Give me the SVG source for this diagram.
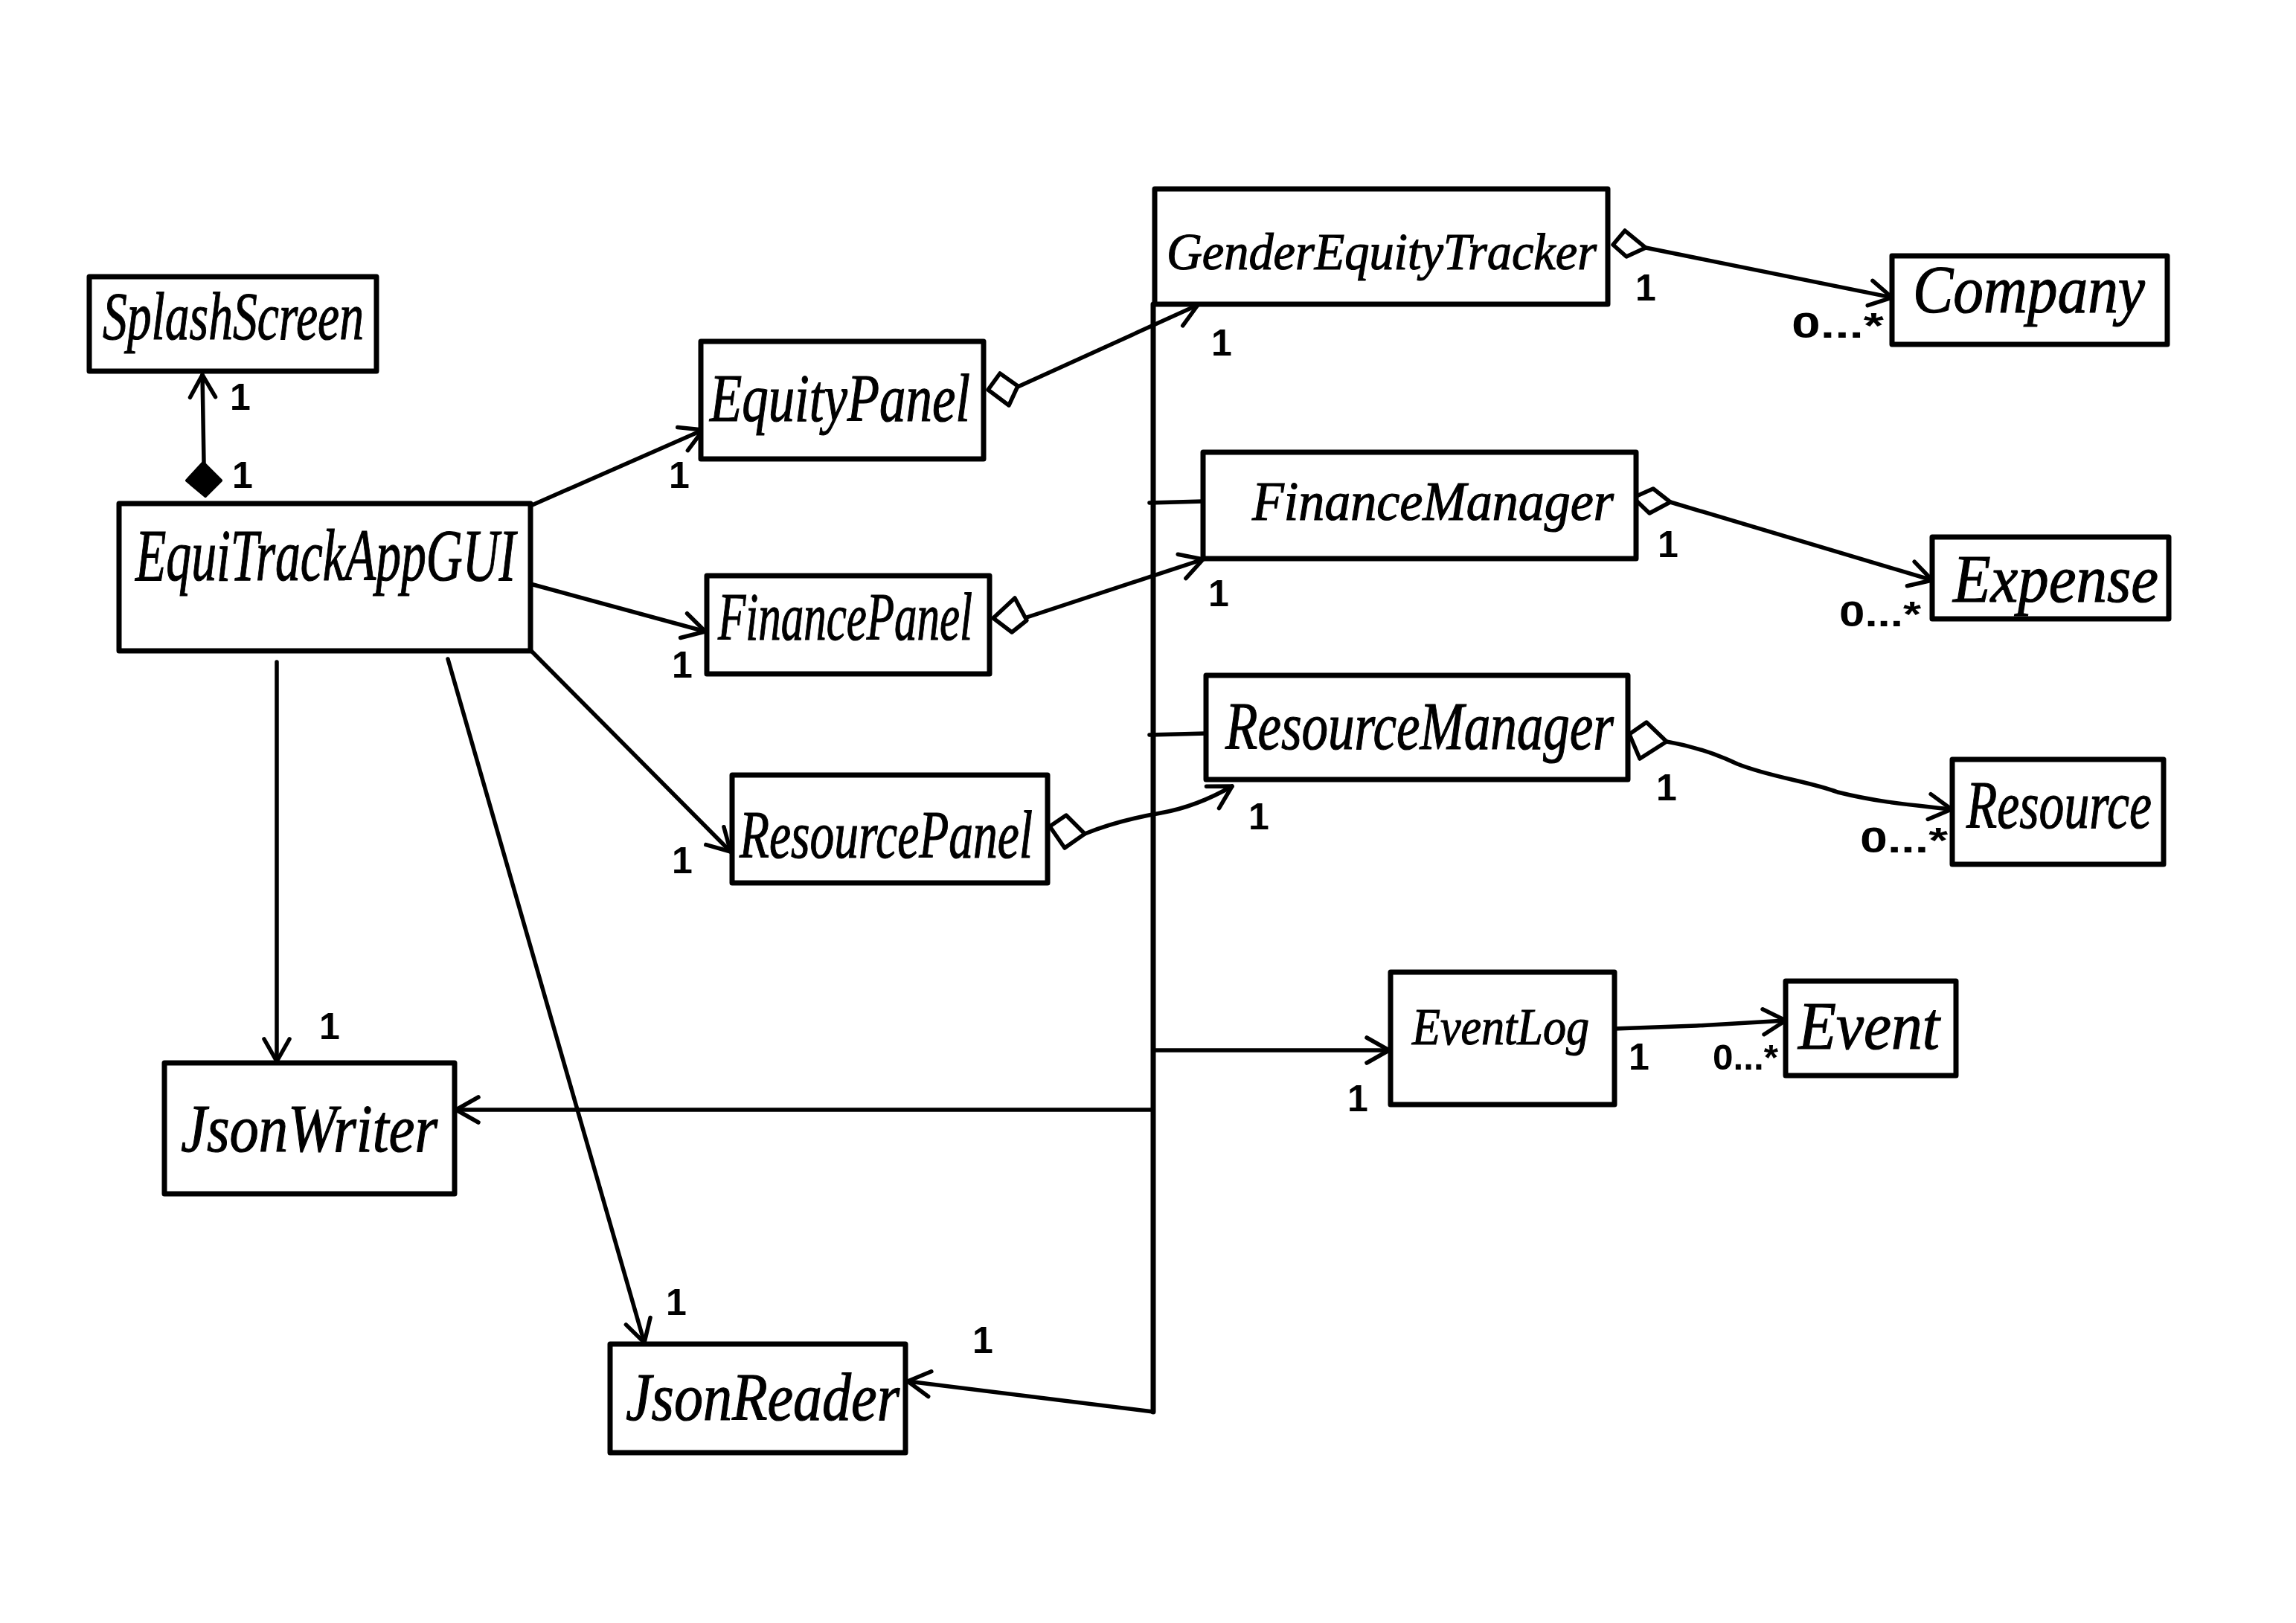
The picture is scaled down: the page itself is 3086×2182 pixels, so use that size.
<svg xmlns="http://www.w3.org/2000/svg" width="3086" height="2182" viewBox="0 0 3086 2182">
  <style>
    .box { fill: #ffffff; stroke: #000000; stroke-width: 7; stroke-linejoin: round; }
    .name { font-family: "Liberation Serif", "DejaVu Serif", serif; font-style: italic; font-size: 92px; fill: #000000; stroke: #000000; stroke-width: 1.2; }
    .edge { fill: none; stroke: #000000; stroke-width: 5.5; stroke-linecap: round; stroke-linejoin: round; }
    .bus { fill: none; stroke: #000000; stroke-width: 7; stroke-linecap: round; }
    .agg { fill: #ffffff; stroke: #000000; stroke-width: 5.5; stroke-linejoin: round; }
    .comp { fill: #000000; stroke: #000000; stroke-width: 4; stroke-linejoin: round; }
    .one { font-family: "Liberation Sans", "DejaVu Sans", sans-serif; font-weight: bold; font-size: 50px; fill: #000000; text-anchor: middle; }
    .many { font-family: "Liberation Sans", "DejaVu Sans", sans-serif; font-weight: bold; font-size: 48px; fill: #000000; text-anchor: middle; }
  </style>
  <defs>
    <marker id="open" markerUnits="userSpaceOnUse" markerWidth="60" markerHeight="60" refX="0" refY="0" viewBox="-40 -30 50 60" orient="auto">
      <path d="M -30 -17 L 0 0 L -30 17" fill="none" stroke="#000000" stroke-width="5.5" stroke-linecap="round" stroke-linejoin="round"/>
    </marker>
  </defs>

  <rect width="3086" height="2182" fill="#ffffff"/>

  <!-- connectors -->
  <g id="connectors">
    <!-- EquiTrackAppGUI composes SplashScreen -->
    <path class="edge" d="M 274 622 L 272 504" marker-end="url(#open)"/>
    <polygon class="comp" points="273,622 297,646 276,667 251,646"/>

    <!-- EquiTrackAppGUI to the panels and json classes -->
    <path class="edge" d="M 713 680 L 945 578" marker-end="url(#open)"/>
    <path class="edge" d="M 713 785 L 948 849" marker-end="url(#open)"/>
    <path class="edge" d="M 713 874 L 982 1145" marker-end="url(#open)"/>
    <path class="edge" d="M 372 890 L 372 1427" marker-end="url(#open)"/>
    <path class="edge" d="M 602 886 L 866 1805" marker-end="url(#open)"/>

    <!-- panels aggregate the managers -->
    <path class="edge" d="M 1368 520 L 1610 410" marker-end="url(#open)"/>
    <polygon class="agg" points="1328,524 1344,502 1368,519 1356,545"/>
    <path class="edge" d="M 1380 830 L 1617 752" marker-end="url(#open)"/>
    <polygon class="agg" points="1335,831 1364,804 1380,834 1360,850"/>
    <path class="edge" d="M 1458 1121 C 1490 1108 1520 1100 1560 1093 C 1600 1086 1630 1072 1656 1057" marker-end="url(#open)"/>
    <polygon class="agg" points="1411,1111 1433,1096 1458,1121 1431,1140"/>

    <!-- managers aggregate their items -->
    <path class="edge" d="M 2212 333 L 2543 400" marker-end="url(#open)"/>
    <polygon class="agg" points="2168,329 2184,310 2212,333 2186,345"/>
    <path class="edge" d="M 2245 675 L 2597 780" marker-end="url(#open)"/>
    <polygon class="agg" points="2195,669 2222,657 2245,675 2217,690"/>
    <path class="edge" d="M 2240 997 C 2280 1004 2310 1015 2335 1027 C 2380 1045 2430 1050 2470 1065 C 2530 1080 2580 1083 2623 1088" marker-end="url(#open)"/>
    <polygon class="agg" points="2190,987 2213,971 2240,997 2204,1020"/>
    <path class="edge" d="M 2170 1383 L 2280 1379 L 2400 1372" marker-end="url(#open)"/>

    <!-- bus line from GenderEquityTracker -->
    <path class="bus" d="M 1550 409 L 1550 1898"/>
    <path class="edge" d="M 1545 676 L 1617 674"/>
    <path class="edge" d="M 1545 988 L 1621 986"/>
    <path class="edge" d="M 1550 1412 L 1867 1412" marker-end="url(#open)"/>
    <path class="edge" d="M 1550 1492 L 613 1492" marker-end="url(#open)"/>
    <path class="edge" d="M 1550 1898 L 1220 1857" marker-end="url(#open)"/>

    <!-- multiplicities -->
    <text class="one" x="323" y="551">1</text>
    <text class="one" x="326" y="656">1</text>
    <text class="one" x="913" y="656">1</text>
    <text class="one" x="917" y="911">1</text>
    <text class="one" x="917" y="1174">1</text>
    <text class="one" x="443" y="1397">1</text>
    <text class="one" x="909" y="1768">1</text>
    <text class="one" x="1321" y="1819">1</text>
    <text class="one" x="1642" y="478">1</text>
    <text class="one" x="2212" y="404">1</text>
    <text class="one" x="2242" y="749">1</text>
    <text class="one" x="1638" y="815">1</text>
    <text class="one" x="1692" y="1115">1</text>
    <text class="one" x="2240" y="1076">1</text>
    <text class="one" x="1825" y="1494">1</text>
    <text class="one" x="2203" y="1438">1</text>
    <text class="many" x="2470" y="454" textLength="124" lengthAdjust="spacingAndGlyphs">0...*</text>
    <text class="many" x="2527" y="842" textLength="110" lengthAdjust="spacingAndGlyphs">0...*</text>
    <text class="many" x="2559" y="1146" textLength="118" lengthAdjust="spacingAndGlyphs">0...*</text>
    <text class="many" x="2346" y="1438" textLength="88" lengthAdjust="spacingAndGlyphs">0...*</text>
  </g>

  <!-- classes -->
  <g id="SplashScreen">
    <rect class="box" x="120" y="372" width="386" height="127"/>
    <text class="name" x="138" y="456" textLength="351" lengthAdjust="spacingAndGlyphs">SplashScreen</text>
  </g>
  <g id="EquiTrackAppGUI">
    <rect class="box" x="160" y="677" width="553" height="198"/>
    <text class="name" x="182" y="780" textLength="511" lengthAdjust="spacingAndGlyphs" style="font-size:100px">EquiTrackAppGUI</text>
  </g>
  <g id="EquityPanel">
    <rect class="box" x="942" y="459" width="380" height="158"/>
    <text class="name" x="954" y="566" textLength="350" lengthAdjust="spacingAndGlyphs">EquityPanel</text>
  </g>
  <g id="FinancePanel">
    <rect class="box" x="950" y="774" width="380" height="132"/>
    <text class="name" x="965" y="860" textLength="342" lengthAdjust="spacingAndGlyphs">FinancePanel</text>
  </g>
  <g id="ResourcePanel">
    <rect class="box" x="984" y="1042" width="424" height="145"/>
    <text class="name" x="994" y="1153" textLength="394" lengthAdjust="spacingAndGlyphs">ResourcePanel</text>
  </g>
  <g id="GenderEquityTracker">
    <rect class="box" x="1552" y="254" width="609" height="155"/>
    <text class="name" x="1568" y="362" textLength="578" lengthAdjust="spacingAndGlyphs" style="font-size:70px">GenderEquityTracker</text>
  </g>
  <g id="Company">
    <rect class="box" x="2543" y="344" width="370" height="119"/>
    <text class="name" x="2571" y="420" textLength="312" lengthAdjust="spacingAndGlyphs">Company</text>
  </g>
  <g id="FinanceManager">
    <rect class="box" x="1617" y="608" width="582" height="143"/>
    <text class="name" x="1683" y="699" textLength="486" lengthAdjust="spacingAndGlyphs" style="font-size:75px">FinanceManager</text>
  </g>
  <g id="Expense">
    <rect class="box" x="2597" y="722" width="318" height="110"/>
    <text class="name" x="2625" y="809" textLength="276" lengthAdjust="spacingAndGlyphs">Expense</text>
  </g>
  <g id="ResourceManager">
    <rect class="box" x="1621" y="908" width="567" height="140"/>
    <text class="name" x="1647" y="1007" textLength="522" lengthAdjust="spacingAndGlyphs">ResourceManager</text>
  </g>
  <g id="Resource">
    <rect class="box" x="2624" y="1021" width="284" height="141"/>
    <text class="name" x="2643" y="1113" textLength="249" lengthAdjust="spacingAndGlyphs">Resource</text>
  </g>
  <g id="EventLog">
    <rect class="box" x="1869" y="1307" width="301" height="178"/>
    <text class="name" x="1898" y="1404" textLength="238" lengthAdjust="spacingAndGlyphs" style="font-size:70px">EventLog</text>
  </g>
  <g id="Event">
    <rect class="box" x="2400" y="1319" width="229" height="127"/>
    <text class="name" x="2417" y="1410" textLength="190" lengthAdjust="spacingAndGlyphs">Event</text>
  </g>
  <g id="JsonWriter">
    <rect class="box" x="221" y="1429" width="390" height="176"/>
    <text class="name" x="243" y="1548" textLength="345" lengthAdjust="spacingAndGlyphs">JsonWriter</text>
  </g>
  <g id="JsonReader">
    <rect class="box" x="820" y="1807" width="397" height="146"/>
    <text class="name" x="841" y="1909" textLength="368" lengthAdjust="spacingAndGlyphs">JsonReader</text>
  </g>
</svg>
